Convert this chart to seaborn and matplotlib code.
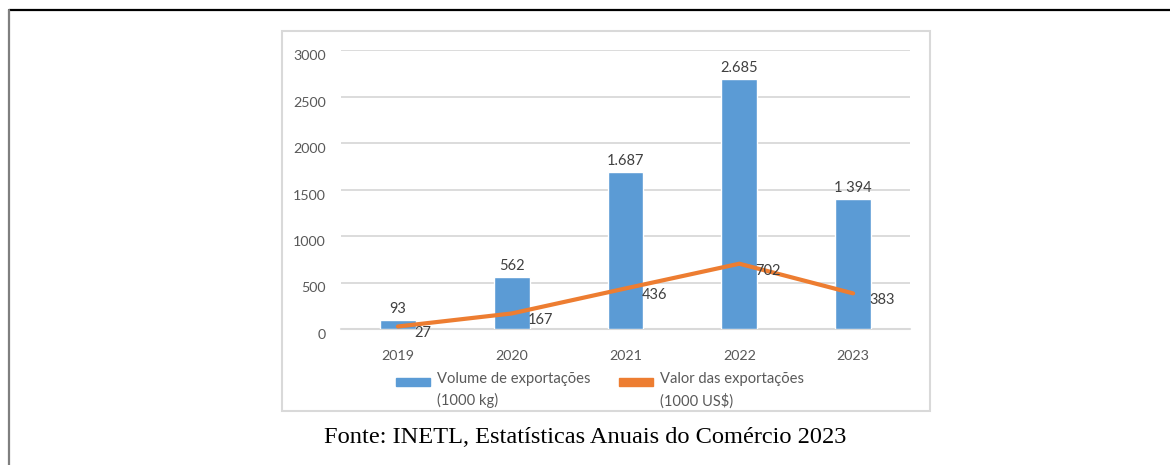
import matplotlib
matplotlib.use("Agg")
import matplotlib.pyplot as plt
import matplotlib.patches as mpatches
import matplotlib.lines as mlines
from matplotlib.legend_handler import HandlerPatch
from matplotlib.transforms import ScaledTranslation
import seaborn as sns
import pandas as pd

# ---- data ----
anos = ["2019", "2020", "2021", "2022", "2023"]
volume = [93, 562, 1687, 2685, 1394]
volume_rotulos = ["93", "562", "1.687", "2.685", "1 394"]
valor = [27, 167, 436, 702, 383]
valor_rotulos = ["27", "167", "436", "702", "383"]
y_ticks = [0, 500, 1000, 1500, 2000, 2500, 3000]
serie_volume = "Volume de exportações\n(1000 kg)"
serie_valor = "Valor das exportações\n(1000 US$)"
fonte = "Fonte: INETL, Estatísticas Anuais do Comércio 2023"

AZUL = "#5B9BD5"
LARANJA = "#ED7D31"
GRID = "#D9D9D9"
TXT = "#595959"
LBL = "#404040"

sns.set_theme(style="white")
plt.rcParams["font.family"] = ["Lato", "DejaVu Sans"]

W, H = 1170, 465
fig = plt.figure(figsize=(W / 100, H / 100), dpi=100)
ax = fig.add_axes([341 / W, (H - 329) / H, 569 / W, 279 / H])

df = pd.DataFrame({"ano": anos, "volume": volume, "valor": valor})

sns.barplot(data=df, x="ano", y="volume", color=AZUL, width=0.316,
            saturation=1, ax=ax, zorder=2)
sns.pointplot(data=df, x="ano", y="valor", color=LARANJA, markers="",
              linestyles="-", errorbar=None, ax=ax, zorder=3)
for ln in ax.lines:
    ln.set_linewidth(3.0)
    ln.set_solid_joinstyle("miter")

ax.set_ylim(0, 3000)
ax.set_xlim(-0.5, 4.5)
ax.set_yticks(y_ticks)
ax.set_xlabel("")
ax.set_ylabel("")
for s in ax.spines.values():
    s.set_visible(False)
ax.yaxis.grid(True, color=GRID, linewidth=1.3, zorder=0)
ax.set_axisbelow(True)
ax.axhline(0, color=GRID, linewidth=1.5, zorder=1, clip_on=False)
ax.tick_params(axis="y", length=0, pad=11, labelsize=10.3, labelcolor=TXT)
ax.tick_params(axis="x", length=0, pad=15, labelsize=10.3, labelcolor=TXT)
for lbl in ax.get_yticklabels():
    lbl.set_transform(lbl.get_transform() + ScaledTranslation(0, -5 / 100, fig.dpi_scale_trans))

# bar labels
ax.bar_label(ax.containers[0], labels=volume_rotulos, padding=3,
             fontsize=10.5, color=LBL)

# line labels
for i, (v, t) in enumerate(zip(valor, valor_rotulos)):
    ax.annotate(t, (i, v), xytext=(11.5, -5), textcoords="offset points",
                ha="left", va="center", fontsize=10.5, color=LBL, zorder=4)

# legend
def shifted_patch(legend, orig_handle, xdescent, ydescent, width, height, fontsize):
    h = 5.4
    shift = 6.3
    return mpatches.Rectangle((-xdescent, -ydescent + height / 2 - h / 2 + shift),
                              width, h)

h1 = mpatches.Patch(color=AZUL, label=serie_volume)
h2 = mpatches.Patch(color=LARANJA, label=serie_valor)
leg = ax.legend(handles=[h1, h2], loc="upper left",
                bbox_to_anchor=(396 / W, 1 - 372 / H), bbox_transform=fig.transFigure,
                ncol=2, frameon=False, fontsize=10.6, labelcolor=TXT,
                borderpad=0, borderaxespad=0, handlelength=2.3,
                handletextpad=0.5, columnspacing=1.9,
                handler_map={mpatches.Patch: HandlerPatch(patch_func=shifted_patch)})
for t in leg.get_texts():
    t.set_linespacing(1.6)

# inner chart box
fig.add_artist(mpatches.Rectangle((282 / W, 1 - 411 / H), (930 - 282) / W, (411 - 31) / H,
                                  transform=fig.transFigure, fill=False,
                                  edgecolor=GRID, linewidth=1.5))
# outer frame lines
fig.add_artist(mlines.Line2D([9 / W, 1], [1 - 10 / H, 1 - 10 / H],
                             transform=fig.transFigure, color="black", linewidth=1.6))
fig.add_artist(mlines.Line2D([9 / W, 9 / W], [0, 1 - 10 / H],
                             transform=fig.transFigure, color="#7F7F7F", linewidth=1.6))

fig.text(585 / W, 1 - 437 / H, fonte, ha="center", va="center",
         family=["Liberation Serif", "DejaVu Serif"], fontsize=17.6, color="black")

fig.savefig("out.png", dpi=100, facecolor="white")
